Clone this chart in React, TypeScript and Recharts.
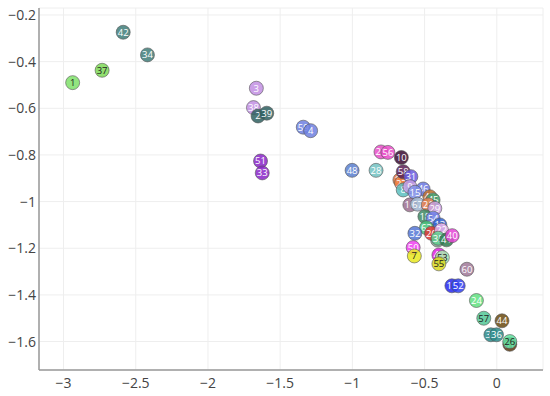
import { CartesianGrid, Scatter, ScatterChart, XAxis, YAxis } from "recharts";

// point labels, positions and fills
const ids = [
  "1", "37", "42", "34", "3", "38", "2", "39", "59", "4", "51", "33", "48", "28",
  "25", "56", "10", "17", "27", "8", "58", "31", "9", "46", "15", "47", "45",
  "16", "67", "21", "29", "18", "54", "13", "12", "63", "32", "20", "22", "35",
  "41", "40", "50", "7", "49", "53", "55", "60", "11", "52", "24", "57", "44",
  "30", "36", "61", "26",
];
const xs = [
  -2.937, -2.733, -2.587, -2.419, -1.665, -1.685, -1.653, -1.593, -1.34, -1.289,
  -1.636, -1.624, -1.002, -0.836, -0.802, -0.754, -0.661, -0.671, -0.66, -0.648,
  -0.648, -0.595, -0.602, -0.51, -0.567, -0.464, -0.441, -0.602, -0.549, -0.475,
  -0.429, -0.498, -0.441, -0.394, -0.41, -0.487, -0.567, -0.452, -0.383, -0.406,
  -0.348, -0.309, -0.579, -0.571, -0.401, -0.377, -0.401, -0.207, -0.311, -0.267,
  -0.141, -0.09, 0.036, -0.041, -0.002, 0.09, 0.09,
];
const ys = [
  -0.49, -0.437, -0.274, -0.371, -0.514, -0.597, -0.633, -0.621, -0.681, -0.696,
  -0.826, -0.877, -0.866, -0.866, -0.787, -0.789, -0.811, -0.907, -0.921, -0.95,
  -0.872, -0.893, -0.936, -0.946, -0.96, -0.979, -0.993, -1.014, -1.011, -1.014,
  -1.029, -1.064, -1.071, -1.1, -1.165, -1.112, -1.136, -1.136, -1.122, -1.157,
  -1.164, -1.146, -1.197, -1.233, -1.229, -1.24, -1.267, -1.29, -1.361, -1.361,
  -1.424, -1.5, -1.511, -1.571, -1.571, -1.612, -1.6,
];
const fills = [
  "#7fe06a", "#7ed957", "#3f7c79", "#3f7c79", "#c28fe3", "#c28fe3", "#2f6060",
  "#2f6060", "#6f80e0", "#6f80e0", "#8a24c8", "#8a24c8", "#5b7fcf", "#72c2c2",
  "#e84cc8", "#e84cc8", "#3a0a30", "#e0743c", "#f08040", "#5cbfbf", "#5a1f55",
  "#6a5ae0", "#c49de6", "#6a78e0", "#7f8fe8", "#c0702a", "#3fa070", "#9c6f8f",
  "#9fb5d0", "#e88050", "#c8a0e0", "#3f8a64", "#6f7fe8", "#3060d0", "#80a090",
  "#45c27a", "#5575d5", "#e03535", "#e8b0e8", "#5fcf8f", "#2f7a4f", "#e444d6",
  "#f040f0", "#e8e820", "#e020e0", "#a8e6b0", "#d8d820", "#a07898", "#2626f0",
  "#3040f0", "#60e080", "#52c896", "#6a4a10", "#2a8a8a", "#2a8a8a", "#5a3a10",
  "#60e0a0",
];
const darkText = ["1", "37", "7", "55", "26", "57", "53"];

const xTicks = [-3, -2.5, -2, -1.5, -1, -0.5, 0];
const yTicks = [-1.6, -1.4, -1.2, -1, -0.8, -0.6, -0.4, -0.2];

const points = ids.map((id, i) => ({ id, x: xs[i], y: ys[i], color: fills[i] }));

const minus = (v: number) => String(v).replace("-", "\u2212");

const Bubble = (props: any) => {
  const { cx, cy, payload } = props;
  if (cx == null || cy == null) return null;
  return (
    <g>
      <circle
        cx={cx}
        cy={cy}
        r={7}
        fill={payload.color}
        fillOpacity={0.85}
        stroke="#555"
        strokeOpacity={0.6}
        strokeWidth={1}
      />
      <text
        x={cx}
        y={cy + 3.4}
        textAnchor="middle"
        fontSize={9.5}
        fill={darkText.includes(payload.id) ? "#222" : "#fff"}
      >
        {payload.id}
      </text>
    </g>
  );
};

export default function App() {
  return (
    <div
      style={{
        position: "absolute",
        left: 0,
        top: 0,
        width: 550,
        height: 396,
        background: "#fff",
        fontFamily: "'Open Sans', sans-serif",
      }}
    >
      <ScatterChart width={550} height={396} margin={{ top: 8, right: 7, bottom: 0, left: 0 }}>
        <CartesianGrid stroke="#eee" strokeWidth={1} />
        <XAxis
          type="number"
          dataKey="x"
          domain={[-3.17, 0.32]}
          ticks={xTicks}
          allowDataOverflow
          height={26}
          tickLine={false}
          axisLine={{ stroke: "#999", strokeWidth: 1.5 }}
          tick={{ fill: "#444", fontSize: 14 }}
          tickFormatter={minus}
        />
        <YAxis
          type="number"
          dataKey="y"
          domain={[-1.722, -0.17]}
          ticks={yTicks}
          allowDataOverflow
          width={39}
          tickLine={false}
          tickSize={3}
          tickMargin={0}
          axisLine={{ stroke: "#999", strokeWidth: 1.5 }}
          tick={{ fill: "#444", fontSize: 14 }}
          tickFormatter={minus}
        />
        <Scatter data={points} shape={Bubble} isAnimationActive={false} />
      </ScatterChart>
    </div>
  );
}
